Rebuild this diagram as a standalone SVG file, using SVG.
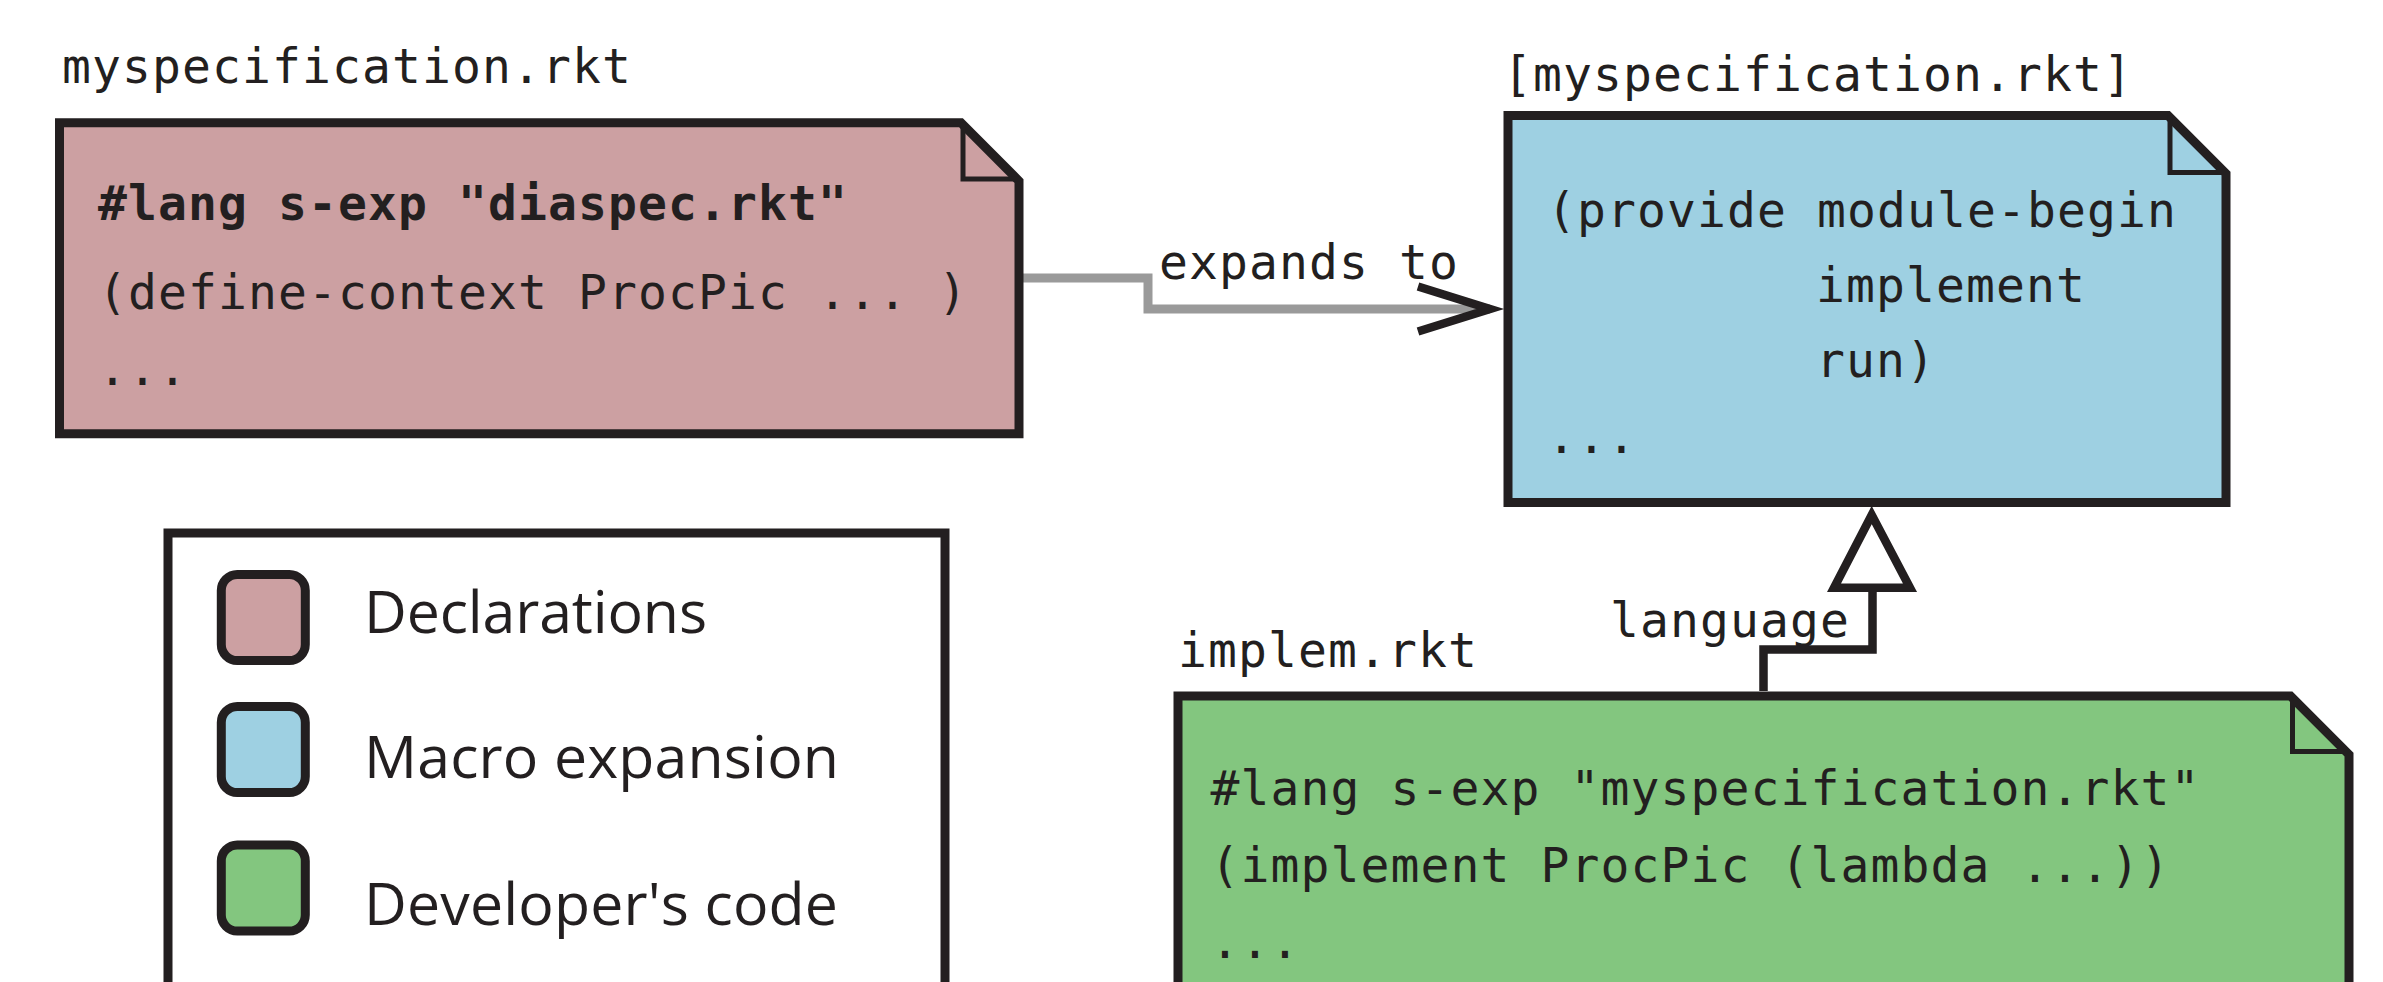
<svg xmlns="http://www.w3.org/2000/svg" width="2383" height="982" viewBox="0 0 2383 982">
<style>
.mono{font-family:"DejaVu Sans Mono","Liberation Mono",monospace;font-size:48px;letter-spacing:1.1px;fill:#231f20}
.bold{font-weight:bold}
.sans{font-family:"Open Sans","Noto Sans","DejaVu Sans",sans-serif;font-size:59px;fill:#231f20}
.note{stroke:#231f20;stroke-width:9;stroke-linejoin:miter}
.fold{fill:none;stroke:#231f20;stroke-width:5}
.pink{fill:#cca0a2}
.blue{fill:#9ed0e2}
.green{fill:#83c67f}
.sw{stroke:#231f20;stroke-width:9}
</style>
<rect width="2383" height="982" fill="#ffffff"/>
<g id="connectors">
<path d="M1023,278 H1148 V309 H1490" fill="none" stroke="#9a9a9a" stroke-width="9"/>
<polyline points="1418,286.5 1490,309 1418,331.5" fill="none" stroke="#231f20" stroke-width="8.5" stroke-linejoin="miter"/>
<text class="mono" x="1159" y="279">expands to</text>
<path d="M1763.5,691 V649.5 H1872.5 V588" fill="none" stroke="#231f20" stroke-width="8.5"/>
<polygon points="1871.7,515 1910,587.7 1834,587.7" fill="#ffffff" stroke="#231f20" stroke-width="8.5" stroke-linejoin="miter"/>
<text class="mono" x="1610" y="636.7">language</text>
</g>
<g id="myspecification">
<text class="mono" x="62" y="83">myspecification.rkt</text>
<path class="note pink" d="M59.5,122.8 H961 L1019,181 V433.8 H59.5 Z"/>
<path class="fold" d="M963,122.8 V179 H1019"/>
<text class="mono bold" x="98" y="220">#lang s-exp "diaspec.rkt"</text>
<text class="mono" x="98" y="309">(define-context ProcPic ... )</text>
<text class="mono" x="98" y="385">...</text>
</g>
<g id="expanded">
<text class="mono" x="1503" y="91">[myspecification.rkt]</text>
<path class="note blue" d="M1508,115.5 H2168 L2226,173.5 V502.5 H1508 Z"/>
<path class="fold" d="M2170,115.5 V172.5 H2226"/>
<text class="mono" x="1547" y="227">(provide module-begin</text>
<text class="mono" x="1816" y="302">implement</text>
<text class="mono" x="1816" y="377">run)</text>
<text class="mono" x="1547" y="453">...</text>
</g>
<g id="implem">
<text class="mono" x="1178" y="666.7">implem.rkt</text>
<path class="note green" d="M1178,1000 V696 H2290.5 L2349,754.5 V1000"/>
<path class="fold" d="M2292.5,696 V751.5 H2349"/>
<text class="mono" x="1210.5" y="805">#lang s-exp "myspecification.rkt"</text>
<text class="mono" x="1210.5" y="881.7">(implement ProcPic (lambda ...))</text>
<text class="mono" x="1210.5" y="958">...</text>
</g>
<g id="legend">
<rect x="168" y="533" width="777" height="480" fill="#ffffff" stroke="#231f20" stroke-width="9"/>
<g id="legend-declarations">
<rect class="sw pink" x="221.3" y="574.5" width="84" height="86" rx="16"/>
<text class="sans" x="364" y="633.3" textLength="343">Declarations</text>
</g>
<g id="legend-macro">
<rect class="sw blue" x="221.3" y="706.5" width="84" height="86" rx="16"/>
<text class="sans" x="364" y="778" textLength="475">Macro expansion</text>
</g>
<g id="legend-developer">
<rect class="sw green" x="221.3" y="845" width="84" height="86" rx="16"/>
<text class="sans" x="364" y="925" textLength="474">Developer's code</text>
</g>
</g>
</svg>
